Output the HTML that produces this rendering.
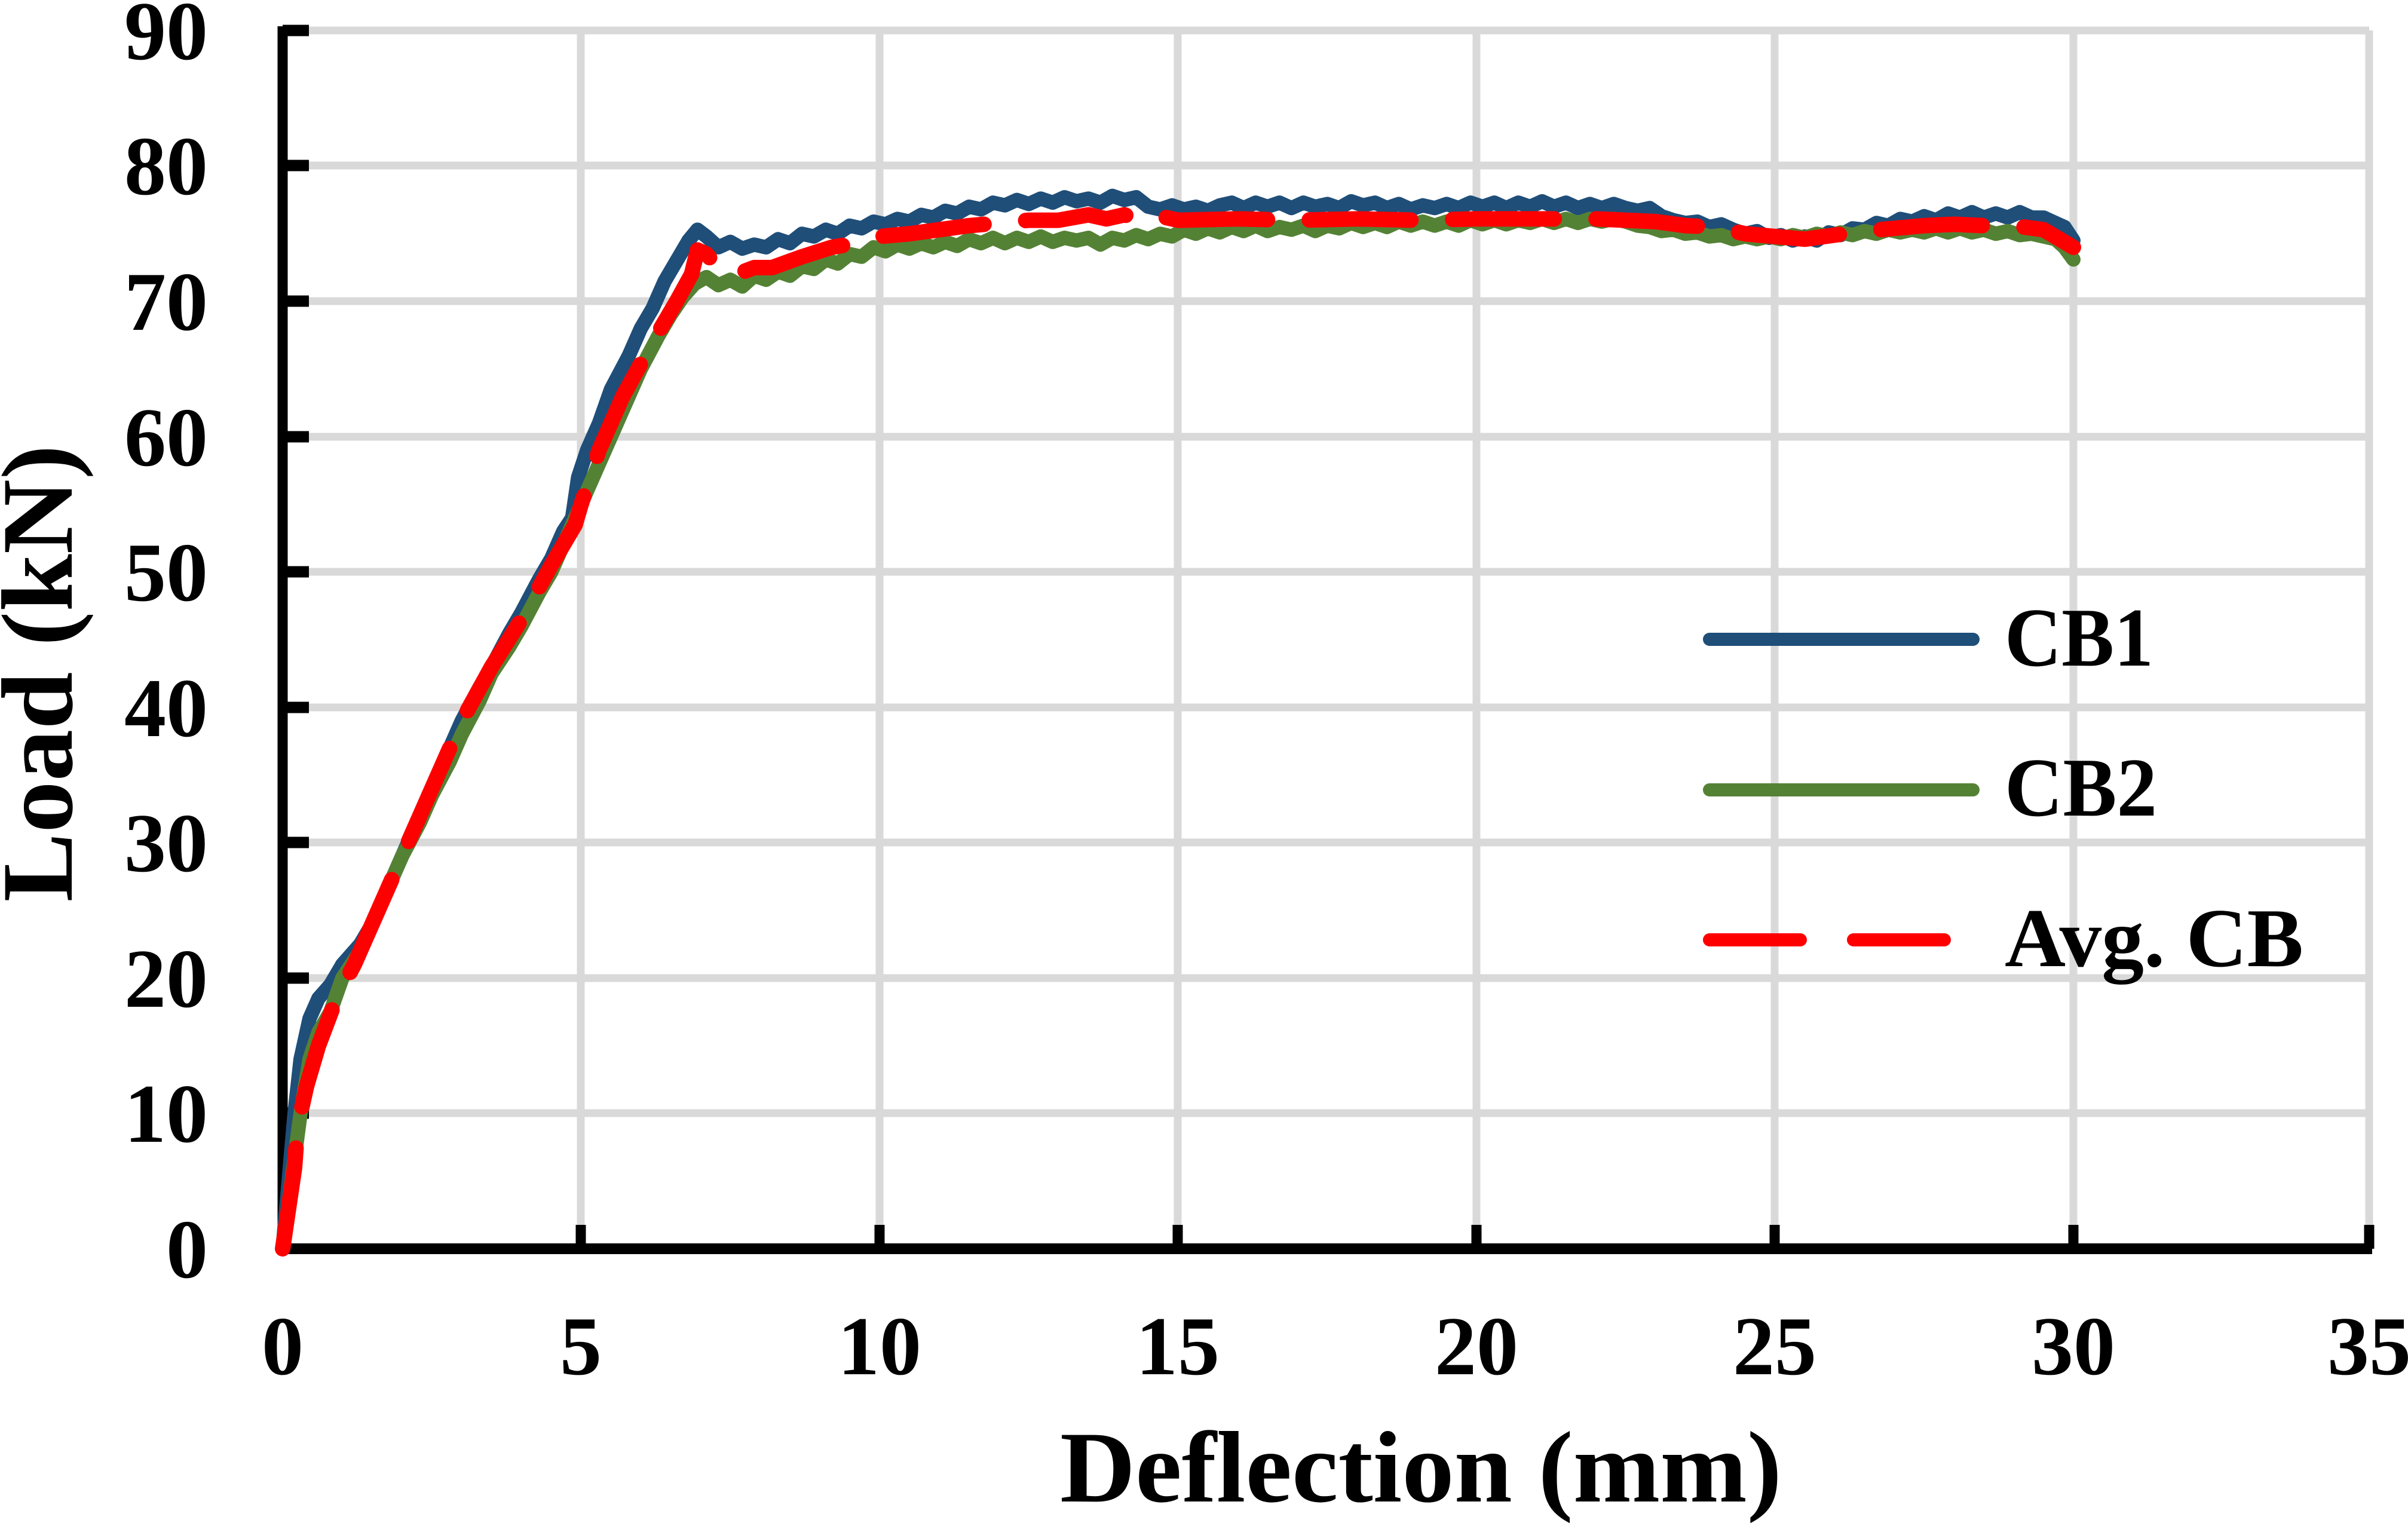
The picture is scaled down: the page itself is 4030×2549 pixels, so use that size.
<!DOCTYPE html>
<html><head><meta charset="utf-8"><style>
html,body{margin:0;padding:0;background:#fff;}
svg{display:block;}
text{font-family:"Liberation Serif",serif;font-weight:bold;fill:#000;}
</style></head><body>
<svg width="4030" height="2549" viewBox="0 0 4030 2549" xmlns="http://www.w3.org/2000/svg">
<g stroke="#d9d9d9" stroke-width="13">
<line x1="473" y1="51" x2="3965" y2="51"/>
<line x1="473" y1="277" x2="3965" y2="277"/>
<line x1="473" y1="504" x2="3965" y2="504"/>
<line x1="473" y1="731" x2="3965" y2="731"/>
<line x1="473" y1="957" x2="3965" y2="957"/>
<line x1="473" y1="1184" x2="3965" y2="1184"/>
<line x1="473" y1="1410" x2="3965" y2="1410"/>
<line x1="473" y1="1637" x2="3965" y2="1637"/>
<line x1="473" y1="1863" x2="3965" y2="1863"/>
<line x1="972" y1="51" x2="972" y2="2090"/>
<line x1="1472" y1="51" x2="1472" y2="2090"/>
<line x1="1971" y1="51" x2="1971" y2="2090"/>
<line x1="2471" y1="51" x2="2471" y2="2090"/>
<line x1="2970" y1="51" x2="2970" y2="2090"/>
<line x1="3470" y1="51" x2="3470" y2="2090"/>
<line x1="3965" y1="51" x2="3965" y2="2090"/>
</g>
<g stroke="#000">
<line x1="473" y1="44" x2="473" y2="2099" stroke-width="17"/>
<line x1="465" y1="2090" x2="3970" y2="2090" stroke-width="18"/>
<g stroke-width="19">
<line x1="473" y1="51" x2="517" y2="51"/><line x1="473" y1="277" x2="517" y2="277"/>
<line x1="473" y1="504" x2="517" y2="504"/><line x1="473" y1="731" x2="517" y2="731"/>
<line x1="473" y1="957" x2="517" y2="957"/><line x1="473" y1="1184" x2="517" y2="1184"/>
<line x1="473" y1="1410" x2="517" y2="1410"/><line x1="473" y1="1637" x2="517" y2="1637"/>
<line x1="473" y1="1863" x2="517" y2="1863"/>
</g>
<g stroke-width="17">
<line x1="972" y1="2090" x2="972" y2="2050"/><line x1="1472" y1="2090" x2="1472" y2="2050"/>
<line x1="1971" y1="2090" x2="1971" y2="2050"/><line x1="2471" y1="2090" x2="2471" y2="2050"/>
<line x1="2970" y1="2090" x2="2970" y2="2050"/><line x1="3470" y1="2090" x2="3470" y2="2050"/>
<line x1="3965" y1="2090" x2="3965" y2="2050"/>
</g>
</g>
<g font-size="140" text-anchor="end">
<text x="348" y="99">90</text><text x="348" y="325">80</text><text x="348" y="552">70</text>
<text x="348" y="779">60</text><text x="348" y="1005">50</text><text x="348" y="1232">40</text>
<text x="348" y="1458">30</text><text x="348" y="1685">20</text><text x="348" y="1911">10</text>
<text x="348" y="2138">0</text>
</g>
<g font-size="140" text-anchor="middle">
<text x="473" y="2300">0</text><text x="972" y="2300">5</text><text x="1472" y="2300">10</text>
<text x="1971" y="2300">15</text><text x="2471" y="2300">20</text><text x="2970" y="2300">25</text>
<text x="3470" y="2300">30</text><text x="3965" y="2300">35</text>
</g>
<text x="2378" y="2513" font-size="170" text-anchor="middle" textLength="1208" lengthAdjust="spacingAndGlyphs">Deflection (mm)</text>
<text transform="translate(120,1127) rotate(-90)" font-size="170" text-anchor="middle" textLength="765" lengthAdjust="spacingAndGlyphs">Load (kN)</text>

<g transform="translate(473,2090) scale(99.9,-22.65)" fill="none" stroke-linejoin="round" stroke-linecap="round">
<polyline vector-effect="non-scaling-stroke" stroke="#1F4E79" stroke-width="24" points="0,0 0.1,5 0.2,10 0.3,14 0.45,17 0.6,18.5 0.8,19.5 1,21 1.3,22.5 1.5,24 1.8,27 2,29 2.3,32 2.5,34 2.8,37 3,39 3.3,41.5 3.5,43 3.8,45.5 4,47 4.3,49.5 4.5,51 4.7,53 4.85,54 4.95,57 5.1,59 5.3,61 5.5,63.5 5.8,66 6,68 6.2,69.5 6.4,71.5 6.6,73 6.8,74.5 6.95,75.3 7.1,74.8 7.3,74 7.5,74.4 7.7,73.9 7.9,74.2 8.1,74 8.3,74.6 8.5,74.3 8.7,75 8.9,74.8 9.1,75.3 9.3,75 9.5,75.6 9.7,75.4 9.9,75.9 10.1,75.7 10.3,76.1 10.5,75.9 10.7,76.4 10.9,76.2 11.1,76.7 11.3,76.5 11.5,77 11.7,76.8 11.9,77.3 12.1,77.1 12.3,77.5 12.5,77.2 12.7,77.6 12.9,77.3 13.1,77.7 13.3,77.4 13.5,77.6 13.7,77.3 13.9,77.8 14.1,77.5 14.3,77.7 14.5,77 14.7,76.8 14.9,77.1 15.1,76.8 15.3,77 15.5,76.7 15.7,77.1 15.9,77.3 16.1,76.9 16.3,77.3 16.5,77 16.7,77.3 16.9,76.9 17.1,77.3 17.3,77 17.5,77.2 17.7,76.9 17.9,77.4 18.1,77.1 18.3,77.3 18.5,76.9 18.7,77.2 18.9,76.8 19.1,77.1 19.3,76.9 19.5,77.2 19.7,76.9 19.9,77.3 20.1,77 20.3,77.3 20.5,76.9 20.7,77.3 20.9,77 21.1,77.4 21.3,77 21.5,77.3 21.7,76.9 21.9,77.2 22.1,76.9 22.3,77.2 22.5,76.9 22.7,76.7 22.9,76.9 23.1,76.3 23.3,76 23.5,75.8 23.7,75.9 23.9,75.5 24.1,75.7 24.3,75.3 24.5,75 24.7,75.2 24.9,74.7 25.1,74.9 25.3,74.5 25.5,74.8 25.7,74.5 25.9,75.1 26.1,74.9 26.3,75.4 26.5,75.3 26.7,75.8 26.9,75.6 27.1,76.1 27.3,75.9 27.5,76.3 27.7,76 27.9,76.5 28.1,76.2 28.3,76.6 28.5,76.2 28.7,76.5 28.9,76.2 29.1,76.6 29.3,76.2 29.5,76.2 29.7,75.8 29.85,75.5 30,74.5"/>
<polyline vector-effect="non-scaling-stroke" stroke="#548235" stroke-width="24" points="0,0 0.15,5 0.3,10 0.45,14 0.6,16 0.8,17.5 1,20 1.3,22 1.5,24 1.8,27 2,29 2.3,31.5 2.5,33.5 2.8,36 3,38 3.3,40.5 3.5,42.5 3.8,44.5 4,46 4.3,48.5 4.5,50 4.8,53 5,55 5.3,58 5.5,60 5.8,63 6,65 6.3,67.5 6.5,69 6.7,70.3 6.9,71.3 7.1,71.8 7.3,71.2 7.5,71.6 7.7,71.1 7.9,71.9 8.1,71.6 8.3,72.2 8.5,71.9 8.7,72.6 8.9,72.4 9.1,73.1 9.3,72.8 9.5,73.5 9.7,73.3 9.9,74 10.1,73.7 10.3,74.2 10.5,73.9 10.7,74.3 10.9,74 11.1,74.4 11.3,74.1 11.5,74.6 11.7,74.3 11.9,74.7 12.1,74.3 12.3,74.7 12.5,74.4 12.7,74.8 12.9,74.4 13.1,74.7 13.3,74.5 13.5,74.7 13.7,74.2 13.9,74.7 14.1,74.5 14.3,74.9 14.5,74.6 14.7,75 14.9,74.8 15.1,75.3 15.3,75 15.5,75.4 15.7,75.1 15.9,75.5 16.1,75.2 16.3,75.6 16.5,75.2 16.7,75.5 16.9,75.3 17.1,75.6 17.3,75.2 17.5,75.6 17.7,75.4 17.9,75.8 18.1,75.5 18.3,75.8 18.5,75.5 18.7,75.9 18.9,75.6 19.1,75.9 19.3,75.6 19.5,75.9 19.7,75.6 19.9,76 20.1,75.7 20.3,76 20.5,75.7 20.7,76 20.9,75.8 21.1,76.1 21.3,75.8 21.5,76.1 21.7,75.8 21.9,76.1 22.1,75.9 22.3,76.1 22.5,75.9 22.7,75.6 22.9,75.5 23.1,75.2 23.3,75.3 23.5,75 23.7,75.1 23.9,74.8 24.1,74.9 24.3,74.6 24.5,74.8 24.7,74.6 24.9,74.8 25.1,74.6 25.3,74.9 25.5,74.7 25.7,75 25.9,74.8 26.1,75.1 26.3,74.9 26.5,75.2 26.7,75 26.9,75.3 27.1,75.1 27.3,75.3 27.5,75.1 27.7,75.4 27.9,75.1 28.1,75.4 28.3,75.1 28.5,75.3 28.7,75 28.9,75.2 29.1,74.9 29.3,75 29.5,74.8 29.7,74.6 29.85,74 30,73.1"/>
<polyline vector-effect="non-scaling-stroke" stroke="#FF0000" stroke-width="26" stroke-dasharray="170 70" points="0,0 0.1,3 0.2,6 0.25,9 0.4,12 0.6,15 0.9,18.5 1.2,21 1.5,24 2,29 2.5,34 3,39 3.5,43 4,46.5 4.5,50.5 4.9,53.5 5,55 5.3,59 5.7,63 6.2,67 6.6,70 6.85,72 6.95,73.8 7.1,73.5 7.3,72.5 7.6,72 7.9,72.5 8.2,72.5 8.7,73.3 9.2,74 9.6,74.3 10,74.8 10.5,75 11,75.3 11.5,75.6 12,75.8 12.5,76 13,76 13.5,76.4 13.8,76.1 14.1,76.4 14.4,76 14.7,76.3 15,76 16,76.1 17,76 18,76.1 19,76 20,76.1 21,76.1 22,76.1 23,75.9 23.5,75.6 24,75.5 24.5,75 25,74.8 25.5,74.6 26,74.9 26.5,75.2 27,75.4 27.5,75.6 28,75.7 28.5,75.6 29,75.6 29.5,75.3 30,74"/>
</g>

<line x1="2861" y1="1070" x2="3302" y2="1070" stroke="#1F4E79" stroke-width="22" stroke-linecap="round"/>
<line x1="2861" y1="1322" x2="3302" y2="1322" stroke="#548235" stroke-width="22" stroke-linecap="round"/>
<line x1="2861" y1="1573" x2="3013" y2="1573" stroke="#FF0000" stroke-width="22" stroke-linecap="round"/>
<line x1="3102" y1="1573" x2="3254" y2="1573" stroke="#FF0000" stroke-width="22" stroke-linecap="round"/>
<g font-size="140">
<text x="3355" y="1114" textLength="249" lengthAdjust="spacingAndGlyphs">CB1</text>
<text x="3355" y="1365" textLength="255" lengthAdjust="spacingAndGlyphs">CB2</text>
<text x="3355" y="1617" textLength="500" lengthAdjust="spacingAndGlyphs">Avg. CB</text>
</g>
</svg>
</body></html>
